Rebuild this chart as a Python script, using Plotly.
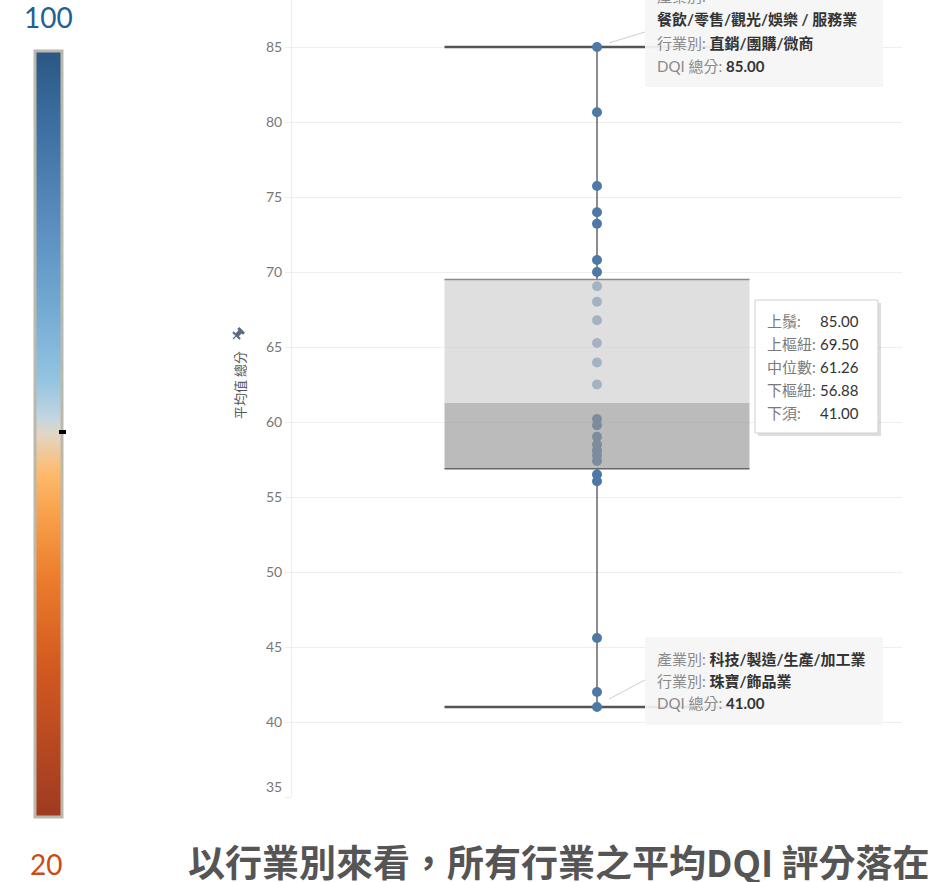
import math
import plotly.graph_objects as go

# ---------------- data ----------------
avg_scores = [85.00, 80.65, 75.73, 73.98, 73.22, 70.80, 70.00,
              69.05, 68.02, 66.78, 65.27, 63.97, 62.50,
              60.20, 59.78, 59.02, 58.50, 58.10, 57.78, 57.40,
              56.50, 56.05, 45.60, 42.00, 41.00]

upper_whisker = 85.00
upper_hinge = 69.50
median_value = 61.26
lower_hinge = 56.88
lower_whisker = 41.00

y_ticks = [35, 40, 45, 50, 55, 60, 65, 70, 75, 80, 85]
axis_title = "平均值 總分"

legend_min = 20
legend_max = 100
legend_marker_value = 60.3
legend_stops = [0.0, 0.2, 0.31, 0.40, 0.45, 0.50, 0.52, 0.57, 0.68, 0.77, 0.90, 1.0]
legend_colors = ["#9e3a22", "#d35a20", "#ec7c2c", "#f9a24d", "#fdbb6d", "#e2d6c4",
                 "#c3d6e0", "#93c4e1", "#6ea6cf", "#5a8fc0", "#3d70a2", "#2a5783"]

top_tip = [("產業別:", ""), ("", "餐飲/零售/觀光/娛樂 / 服務業"),
           ("行業別: ", "直銷/團購/微商"), ("DQI 總分: ", "85.00")]
bottom_tip = [("產業別: ", "科技/製造/生產/加工業"), ("行業別: ", "珠寶/飾品業"),
              ("DQI 總分: ", "41.00")]
box_tip_labels = ["上鬚:", "上樞紐:", "中位數:", "下樞紐:", "下須:"]
box_tip_values = [upper_whisker, upper_hinge, median_value, lower_hinge, lower_whisker]
caption = "以行業別來看，所有行業之平均DQI 評分落在"

# ---------------- layout helpers ----------------
W, H = 935, 882
L, R, T, B = 292, 902, 0, 797
PX_PER_UNIT = 15.0
y_range = [min(y_ticks), min(y_ticks) + (B - T) / PX_PER_UNIT]


def px(x):
    return (x - L) / (R - L)


def py(y):
    return (B - y) / (B - T)


FONT = "Lato, 'Noto Sans CJK TC', 'Noto Sans', sans-serif"
CJK = "'Noto Sans CJK TC', Lato, sans-serif"

fig = go.Figure()

fig.add_trace(go.Scatter(
    x=[0] * len(avg_scores), y=avg_scores, mode="markers",
    marker=dict(size=10, color="#4e79a7", line=dict(width=0)),
    hoverinfo="skip", showlegend=False))

# colour legend
fig.add_trace(go.Scatter(
    x=[None], y=[None], mode="markers", hoverinfo="skip", showlegend=False,
    marker=dict(color=[legend_min, legend_max], cmin=legend_min, cmax=legend_max,
                colorscale=[[s, c] for s, c in zip(legend_stops, legend_colors)],
                showscale=True,
                colorbar=dict(x=px(34.5), xanchor="left", y=py(51), yanchor="top",
                              lenmode="pixels", len=766, thicknessmode="pixels", thickness=27,
                              outlinewidth=3, outlinecolor="#bcb8ac",
                              xpad=0, ypad=0, showticklabels=False, ticks=""))))

shapes = []
# whiskers (between grid and points)
shapes.append(dict(type="line", xref="x", yref="y", x0=0, x1=0, y0=upper_hinge, y1=upper_whisker,
                   line=dict(color="#666666", width=1.5), layer="between"))
shapes.append(dict(type="line", xref="x", yref="y", x0=0, x1=0, y0=lower_whisker, y1=lower_hinge,
                   line=dict(color="#666666", width=1.5), layer="between"))
for v in (upper_whisker, lower_whisker):
    shapes.append(dict(type="line", xref="x", yref="y", x0=-0.5, x1=0.5, y0=v, y1=v,
                       line=dict(color="#555555", width=2.5), layer="between"))
# box (above points, translucent)
shapes.append(dict(type="rect", xref="x", yref="y", x0=-0.5, x1=0.5, y0=median_value, y1=upper_hinge,
                   fillcolor="rgba(208,208,208,0.67)", line=dict(width=0), layer="above"))
shapes.append(dict(type="rect", xref="x", yref="y", x0=-0.5, x1=0.5, y0=lower_hinge, y1=median_value,
                   fillcolor="rgba(150,150,150,0.65)", line=dict(width=0), layer="above"))
shapes.append(dict(type="line", xref="x", yref="y", x0=-0.5, x1=0.5, y0=upper_hinge, y1=upper_hinge,
                   line=dict(color="#8a8a8a", width=1.5), layer="above"))
shapes.append(dict(type="line", xref="x", yref="y", x0=-0.5, x1=0.5, y0=lower_hinge, y1=lower_hinge,
                   line=dict(color="#666666", width=1.5), layer="above"))

# tooltips
shapes.append(dict(type="rect", xref="paper", yref="paper", x0=px(645), x1=px(883), y0=py(87), y1=py(-10),
                   fillcolor="rgba(245,245,245,0.93)", line=dict(width=0), layer="above"))
shapes.append(dict(type="line", xref="paper", yref="paper", x0=px(609), x1=px(645), y0=py(43), y1=py(32),
                   line=dict(color="#cfcfcf", width=1), layer="above"))
shapes.append(dict(type="rect", xref="paper", yref="paper", x0=px(645), x1=px(883), y0=py(725), y1=py(637),
                   fillcolor="rgba(245,245,245,0.93)", line=dict(width=0), layer="above"))
shapes.append(dict(type="line", xref="paper", yref="paper", x0=px(609), x1=px(645), y0=py(699), y1=py(680),
                   line=dict(color="#cfcfcf", width=1), layer="above"))
shapes.append(dict(type="rect", xref="paper", yref="paper", x0=px(758), x1=px(881), y0=py(436), y1=py(303),
                   fillcolor="rgba(0,0,0,0.13)", line=dict(width=0), layer="above"))
shapes.append(dict(type="rect", xref="paper", yref="paper", x0=px(755), x1=px(878), y0=py(433), y1=py(300),
                   fillcolor="#ffffff", line=dict(color="#d0d0d0", width=1), layer="above"))

# pin icon next to the axis title
tip_x, tip_y = 233.0, 339.0
d = (1 / math.sqrt(2), -1 / math.sqrt(2))
n = (1 / math.sqrt(2), 1 / math.sqrt(2))


def pin_pt(u, v):
    x = tip_x + u * d[0] + v * n[0]
    y = tip_y + u * d[1] + v * n[1]
    return f"{px(x):.5f},{py(y):.5f}"


body = [(4, -5), (6, -5), (6, -2.2), (10, -2.2), (10, -4), (13, -4), (13, 4), (10, 4),
        (10, 2.2), (6, 2.2), (6, 5), (4, 5)]
pin_path = "M" + " L".join(pin_pt(u, v) for u, v in body) + " Z"
shapes.append(dict(type="path", xref="paper", yref="paper", path=pin_path,
                   fillcolor="#5b6b80", line=dict(width=0), layer="above"))
shapes.append(dict(type="path", xref="paper", yref="paper",
                   path="M" + pin_pt(0, 0) + " L" + pin_pt(4.5, 0),
                   line=dict(color="#5b6b80", width=1.2), layer="above"))

annotations = []

# legend marker (annotation so it sits above the colour bar)
mark_y = 815 - (legend_marker_value - legend_min) / (legend_max - legend_min) * 760
annotations.append(dict(xref="paper", yref="paper", x=px(59), y=py(mark_y), text="",
                        showarrow=False, xanchor="left", yanchor="middle",
                        width=7, height=4, bgcolor="#000000", borderpad=0, borderwidth=0,
                        font=dict(size=1)))


def tip_line(label, value, x, y):
    txt = ""
    if label:
        txt += "<span style='color:#8a8a8a'>" + label + "</span>"
    if value:
        txt += "<b><span style='color:#333333'>" + value + "</span></b>"
    annotations.append(dict(xref="paper", yref="paper", x=px(x), y=py(y), text=txt,
                            showarrow=False, xanchor="left", yanchor="middle",
                            font=dict(family=FONT, size=15)))


for i, (lab, val) in enumerate(top_tip):
    tip_line(lab, val, 655, -4 + i * 23.3)
for i, (lab, val) in enumerate(bottom_tip):
    tip_line(lab, val, 655, 659 + i * 22)
for i, (lab, val) in enumerate(zip(box_tip_labels, box_tip_values)):
    yy = 321 + i * 23
    annotations.append(dict(xref="paper", yref="paper", x=px(765), y=py(yy), text=lab,
                            showarrow=False, xanchor="left", yanchor="middle",
                            font=dict(family=FONT, size=15, color="#7a7a7a")))
    annotations.append(dict(xref="paper", yref="paper", x=px(818), y=py(yy), text=f"{val:.2f}",
                            showarrow=False, xanchor="left", yanchor="middle",
                            font=dict(family=FONT, size=15, color="#333333")))

annotations.append(dict(xref="paper", yref="paper", x=px(240), y=py(385), text=axis_title,
                        textangle=-90, showarrow=False, xanchor="center", yanchor="middle",
                        font=dict(family=CJK, size=13, color="#555555")))
annotations.append(dict(xref="paper", yref="paper", x=px(48), y=py(17), text=str(legend_max),
                        showarrow=False, xanchor="center", yanchor="middle",
                        font=dict(family=FONT, size=28, color="#1f6096")))
annotations.append(dict(xref="paper", yref="paper", x=px(46), y=py(864), text=str(legend_min),
                        showarrow=False, xanchor="center", yanchor="middle",
                        font=dict(family=FONT, size=28, color="#cc4b12")))
annotations.append(dict(xref="paper", yref="paper", x=px(186), y=py(861), text="<b>" + caption + "</b>",
                        showarrow=False, xanchor="left", yanchor="middle",
                        font=dict(family=CJK, size=37, color="#555555")))

# bottom tick label is nudged up to stay inside the pane (as in the reference)
tick_text = ["" if t == min(y_ticks) else str(t) for t in y_ticks]
annotations.append(dict(xref="paper", yref="y", x=px(284), y=min(y_ticks) + 11 / PX_PER_UNIT,
                        text=str(min(y_ticks)), showarrow=False, xanchor="right", yanchor="middle",
                        font=dict(family=FONT, size=14, color="#777777")))

fig.update_layout(
    width=W, height=H,
    margin=dict(l=L, r=W - R, t=T, b=H - B, pad=0),
    paper_bgcolor="#ffffff", plot_bgcolor="#ffffff",
    showlegend=False,
    xaxis=dict(range=[-1, 1], visible=False, fixedrange=True),
    yaxis=dict(range=y_range, tickvals=y_ticks, ticktext=tick_text, showgrid=True,
               gridcolor="#eeeeee", gridwidth=1,
               zeroline=False, showline=True, linecolor="#eeeeee", linewidth=1,
               ticks="outside", ticklen=6, tickcolor="#eeeeee",
               tickfont=dict(family=FONT, size=14, color="#777777"), fixedrange=True),
    shapes=shapes, annotations=annotations,
)

fig.write_html("out.html", config={"displayModeBar": False},
               post_script="document.body.style.margin='0';document.body.style.overflow='hidden';")
